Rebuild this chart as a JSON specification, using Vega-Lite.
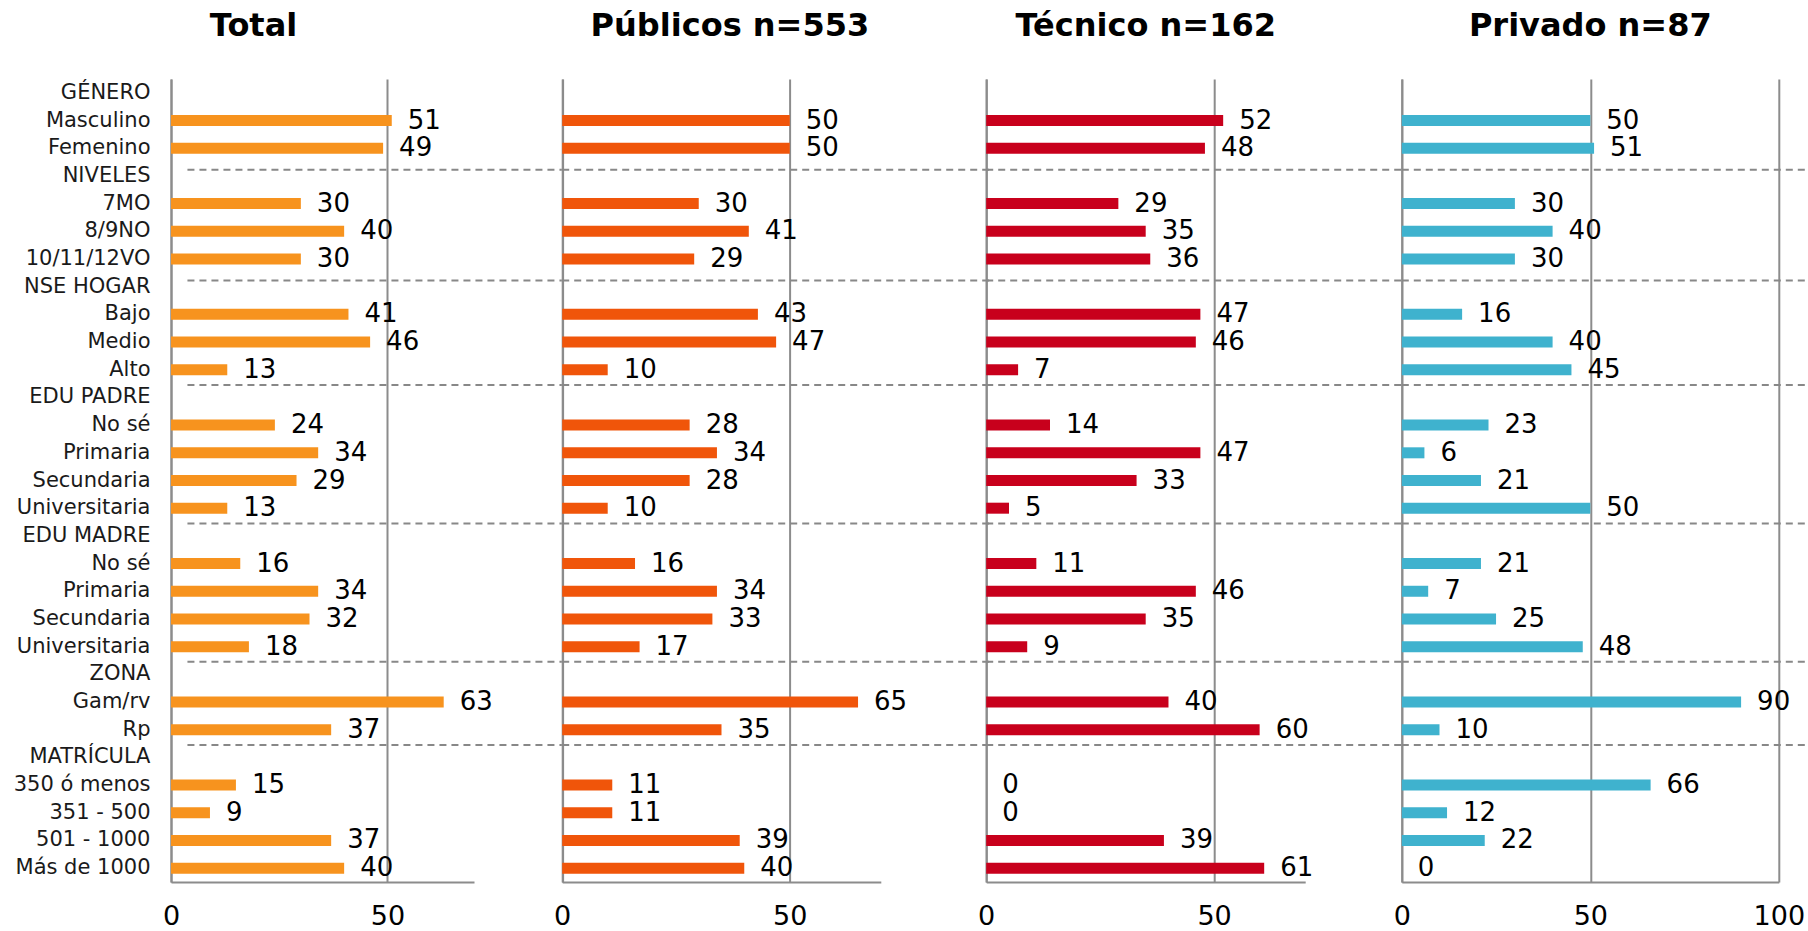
{
  "$schema": "https://vega.github.io/schema/vega-lite/v6.json",
  "background": "white",
  "padding": {"left": 13, "top": 10, "right": 0, "bottom": 0},
  "spacing": 96.6,
  "bounds": "flush",
  "config": {
    "view": {"stroke": null},
    "font": "DejaVu Sans",
    "title": {"font": "DejaVu Sans", "fontSize": 32, "fontWeight": "bold", "color": "#000000", "anchor": "middle", "frame": "group", "baseline": "alphabetic", "offset": 36},
    "axis": {"title": null, "ticks": false, "domainColor": "#8c8c8c", "domainWidth": 2, "gridColor": "#8c8c8c", "gridWidth": 2, "labelFont": "DejaVu Sans", "labelColor": "#000000"}
  },
  "resolve": {"scale": {"x": "independent", "y": "independent"}, "axis": {"x": "independent", "y": "independent"}},
  "datasets": {
    "rows": [
      {"panel": "Total", "key": "GÉNERO|Masculino", "value": 51},
      {"panel": "Total", "key": "GÉNERO|Femenino", "value": 49},
      {"panel": "Total", "key": "NIVELES|7MO", "value": 30},
      {"panel": "Total", "key": "NIVELES|8/9NO", "value": 40},
      {"panel": "Total", "key": "NIVELES|10/11/12VO", "value": 30},
      {"panel": "Total", "key": "NSE HOGAR|Bajo", "value": 41},
      {"panel": "Total", "key": "NSE HOGAR|Medio", "value": 46},
      {"panel": "Total", "key": "NSE HOGAR|Alto", "value": 13},
      {"panel": "Total", "key": "EDU PADRE|No sé", "value": 24},
      {"panel": "Total", "key": "EDU PADRE|Primaria", "value": 34},
      {"panel": "Total", "key": "EDU PADRE|Secundaria", "value": 29},
      {"panel": "Total", "key": "EDU PADRE|Universitaria", "value": 13},
      {"panel": "Total", "key": "EDU MADRE|No sé", "value": 16},
      {"panel": "Total", "key": "EDU MADRE|Primaria", "value": 34},
      {"panel": "Total", "key": "EDU MADRE|Secundaria", "value": 32},
      {"panel": "Total", "key": "EDU MADRE|Universitaria", "value": 18},
      {"panel": "Total", "key": "ZONA|Gam/rv", "value": 63},
      {"panel": "Total", "key": "ZONA|Rp", "value": 37},
      {"panel": "Total", "key": "MATRÍCULA|350 ó menos", "value": 15},
      {"panel": "Total", "key": "MATRÍCULA|351 - 500", "value": 9},
      {"panel": "Total", "key": "MATRÍCULA|501 - 1000", "value": 37},
      {"panel": "Total", "key": "MATRÍCULA|Más de 1000", "value": 40},
      {"panel": "Públicos", "key": "GÉNERO|Masculino", "value": 50},
      {"panel": "Públicos", "key": "GÉNERO|Femenino", "value": 50},
      {"panel": "Públicos", "key": "NIVELES|7MO", "value": 30},
      {"panel": "Públicos", "key": "NIVELES|8/9NO", "value": 41},
      {"panel": "Públicos", "key": "NIVELES|10/11/12VO", "value": 29},
      {"panel": "Públicos", "key": "NSE HOGAR|Bajo", "value": 43},
      {"panel": "Públicos", "key": "NSE HOGAR|Medio", "value": 47},
      {"panel": "Públicos", "key": "NSE HOGAR|Alto", "value": 10},
      {"panel": "Públicos", "key": "EDU PADRE|No sé", "value": 28},
      {"panel": "Públicos", "key": "EDU PADRE|Primaria", "value": 34},
      {"panel": "Públicos", "key": "EDU PADRE|Secundaria", "value": 28},
      {"panel": "Públicos", "key": "EDU PADRE|Universitaria", "value": 10},
      {"panel": "Públicos", "key": "EDU MADRE|No sé", "value": 16},
      {"panel": "Públicos", "key": "EDU MADRE|Primaria", "value": 34},
      {"panel": "Públicos", "key": "EDU MADRE|Secundaria", "value": 33},
      {"panel": "Públicos", "key": "EDU MADRE|Universitaria", "value": 17},
      {"panel": "Públicos", "key": "ZONA|Gam/rv", "value": 65},
      {"panel": "Públicos", "key": "ZONA|Rp", "value": 35},
      {"panel": "Públicos", "key": "MATRÍCULA|350 ó menos", "value": 11},
      {"panel": "Públicos", "key": "MATRÍCULA|351 - 500", "value": 11},
      {"panel": "Públicos", "key": "MATRÍCULA|501 - 1000", "value": 39},
      {"panel": "Públicos", "key": "MATRÍCULA|Más de 1000", "value": 40},
      {"panel": "Técnico", "key": "GÉNERO|Masculino", "value": 52},
      {"panel": "Técnico", "key": "GÉNERO|Femenino", "value": 48},
      {"panel": "Técnico", "key": "NIVELES|7MO", "value": 29},
      {"panel": "Técnico", "key": "NIVELES|8/9NO", "value": 35},
      {"panel": "Técnico", "key": "NIVELES|10/11/12VO", "value": 36},
      {"panel": "Técnico", "key": "NSE HOGAR|Bajo", "value": 47},
      {"panel": "Técnico", "key": "NSE HOGAR|Medio", "value": 46},
      {"panel": "Técnico", "key": "NSE HOGAR|Alto", "value": 7},
      {"panel": "Técnico", "key": "EDU PADRE|No sé", "value": 14},
      {"panel": "Técnico", "key": "EDU PADRE|Primaria", "value": 47},
      {"panel": "Técnico", "key": "EDU PADRE|Secundaria", "value": 33},
      {"panel": "Técnico", "key": "EDU PADRE|Universitaria", "value": 5},
      {"panel": "Técnico", "key": "EDU MADRE|No sé", "value": 11},
      {"panel": "Técnico", "key": "EDU MADRE|Primaria", "value": 46},
      {"panel": "Técnico", "key": "EDU MADRE|Secundaria", "value": 35},
      {"panel": "Técnico", "key": "EDU MADRE|Universitaria", "value": 9},
      {"panel": "Técnico", "key": "ZONA|Gam/rv", "value": 40},
      {"panel": "Técnico", "key": "ZONA|Rp", "value": 60},
      {"panel": "Técnico", "key": "MATRÍCULA|350 ó menos", "value": 0},
      {"panel": "Técnico", "key": "MATRÍCULA|351 - 500", "value": 0},
      {"panel": "Técnico", "key": "MATRÍCULA|501 - 1000", "value": 39},
      {"panel": "Técnico", "key": "MATRÍCULA|Más de 1000", "value": 61},
      {"panel": "Privado", "key": "GÉNERO|Masculino", "value": 50},
      {"panel": "Privado", "key": "GÉNERO|Femenino", "value": 51},
      {"panel": "Privado", "key": "NIVELES|7MO", "value": 30},
      {"panel": "Privado", "key": "NIVELES|8/9NO", "value": 40},
      {"panel": "Privado", "key": "NIVELES|10/11/12VO", "value": 30},
      {"panel": "Privado", "key": "NSE HOGAR|Bajo", "value": 16},
      {"panel": "Privado", "key": "NSE HOGAR|Medio", "value": 40},
      {"panel": "Privado", "key": "NSE HOGAR|Alto", "value": 45},
      {"panel": "Privado", "key": "EDU PADRE|No sé", "value": 23},
      {"panel": "Privado", "key": "EDU PADRE|Primaria", "value": 6},
      {"panel": "Privado", "key": "EDU PADRE|Secundaria", "value": 21},
      {"panel": "Privado", "key": "EDU PADRE|Universitaria", "value": 50},
      {"panel": "Privado", "key": "EDU MADRE|No sé", "value": 21},
      {"panel": "Privado", "key": "EDU MADRE|Primaria", "value": 7},
      {"panel": "Privado", "key": "EDU MADRE|Secundaria", "value": 25},
      {"panel": "Privado", "key": "EDU MADRE|Universitaria", "value": 48},
      {"panel": "Privado", "key": "ZONA|Gam/rv", "value": 90},
      {"panel": "Privado", "key": "ZONA|Rp", "value": 10},
      {"panel": "Privado", "key": "MATRÍCULA|350 ó menos", "value": 66},
      {"panel": "Privado", "key": "MATRÍCULA|351 - 500", "value": 12},
      {"panel": "Privado", "key": "MATRÍCULA|501 - 1000", "value": 22},
      {"panel": "Privado", "key": "MATRÍCULA|Más de 1000", "value": 0}
    ],
    "sections": [
      {"key": "NIVELES"}, {"key": "NSE HOGAR"}, {"key": "EDU PADRE"}, {"key": "EDU MADRE"}, {"key": "ZONA"}, {"key": "MATRÍCULA"}
    ]
  },
  "hconcat": [
    {
      "width": 303, "height": 803,
      "title": {"text": "Total", "dx": -69},
      "layer": [
        {
          "data": {"name": "rows"},
          "transform": [{"filter": {"field": "panel", "equal": "Total"}}],
          "layer": [
            {"mark": {"type": "bar", "size": 11, "color": "#F7931E"},
             "encoding": {
               "y": {"field": "key", "type": "nominal", "scale": {"domain": ["GÉNERO","GÉNERO|Masculino","GÉNERO|Femenino","NIVELES","NIVELES|7MO","NIVELES|8/9NO","NIVELES|10/11/12VO","NSE HOGAR","NSE HOGAR|Bajo","NSE HOGAR|Medio","NSE HOGAR|Alto","EDU PADRE","EDU PADRE|No sé","EDU PADRE|Primaria","EDU PADRE|Secundaria","EDU PADRE|Universitaria","EDU MADRE","EDU MADRE|No sé","EDU MADRE|Primaria","EDU MADRE|Secundaria","EDU MADRE|Universitaria","ZONA","ZONA|Gam/rv","ZONA|Rp","MATRÍCULA","MATRÍCULA|350 ó menos","MATRÍCULA|351 - 500","MATRÍCULA|501 - 1000","MATRÍCULA|Más de 1000"], "paddingInner": 0, "paddingOuter": 0},
                     "axis": {"labelExpr": "slice(datum.value, indexof(datum.value, '|') + 1)", "labelFontSize": 21, "labelColor": "#1a1a1a", "labelPadding": 21, "labelLimit": 400}},
               "x": {"field": "value", "type": "quantitative", "scale": {"domain": [0, 70], "nice": false},
                     "axis": {"values": [0, 50], "grid": true, "labelFontSize": 27, "labelPadding": 21, "labelFlush": false}}
             }},
            {"mark": {"type": "text", "align": "left", "baseline": "middle", "dx": 16, "fontSize": 26, "font": "DejaVu Sans", "color": "#000000"},
             "encoding": {"y": {"field": "key", "type": "nominal"}, "x": {"field": "value", "type": "quantitative"}, "text": {"field": "value", "type": "quantitative"}}}
          ]
        },
        {"data": {"name": "sections"}, "transform": [{"filter": {"field": "key", "oneOf": ["NIVELES", "NSE HOGAR"]}}],
         "mark": {"type": "rule", "strokeDash": [7, 5], "strokeWidth": 2, "color": "#888888"},
         "encoding": {"y": {"field": "key", "type": "nominal", "bandPosition": 0.28}, "x": {"datum": 3.8, "type": "quantitative"}, "x2": {"datum": 90.3}}},
        {"data": {"name": "sections"}, "transform": [{"filter": {"not": {"field": "key", "oneOf": ["NIVELES", "NSE HOGAR"]}}}],
         "mark": {"type": "rule", "strokeDash": [7, 5], "strokeWidth": 2, "color": "#888888"},
         "encoding": {"y": {"field": "key", "type": "nominal", "bandPosition": 0.05}, "x": {"datum": 3.8, "type": "quantitative"}, "x2": {"datum": 90.3}}}
      ]
    },
    {
      "width": 318.6, "height": 803,
      "title": {"text": "Públicos n=553"},
      "layer": [
        {
          "data": {"name": "rows"},
          "transform": [{"filter": {"field": "panel", "equal": "Públicos"}}],
          "layer": [
            {"mark": {"type": "bar", "size": 11, "color": "#F0550A"},
             "encoding": {
               "y": {"field": "key", "type": "nominal", "scale": {"domain": ["GÉNERO","GÉNERO|Masculino","GÉNERO|Femenino","NIVELES","NIVELES|7MO","NIVELES|8/9NO","NIVELES|10/11/12VO","NSE HOGAR","NSE HOGAR|Bajo","NSE HOGAR|Medio","NSE HOGAR|Alto","EDU PADRE","EDU PADRE|No sé","EDU PADRE|Primaria","EDU PADRE|Secundaria","EDU PADRE|Universitaria","EDU MADRE","EDU MADRE|No sé","EDU MADRE|Primaria","EDU MADRE|Secundaria","EDU MADRE|Universitaria","ZONA","ZONA|Gam/rv","ZONA|Rp","MATRÍCULA","MATRÍCULA|350 ó menos","MATRÍCULA|351 - 500","MATRÍCULA|501 - 1000","MATRÍCULA|Más de 1000"], "paddingInner": 0, "paddingOuter": 0},
                     "axis": {"labels": false, "offset": 8.4}},
               "x": {"field": "value", "type": "quantitative", "scale": {"domain": [0, 70], "nice": false, "range": [-8.4, 310.2]},
                     "axis": {"values": [0, 50], "grid": true, "labelFontSize": 27, "labelPadding": 21, "labelFlush": false}}
             }},
            {"mark": {"type": "text", "align": "left", "baseline": "middle", "dx": 16, "fontSize": 26, "font": "DejaVu Sans", "color": "#000000"},
             "encoding": {"y": {"field": "key", "type": "nominal"}, "x": {"field": "value", "type": "quantitative"}, "text": {"field": "value", "type": "quantitative"}}}
          ]
        },
        {"data": {"name": "sections"}, "transform": [{"filter": {"field": "key", "oneOf": ["NIVELES", "NSE HOGAR"]}}],
         "mark": {"type": "rule", "strokeDash": [7, 5], "strokeWidth": 2, "color": "#888888"},
         "encoding": {"y": {"field": "key", "type": "nominal", "bandPosition": 0.28}, "x": {"datum": 0, "type": "quantitative"}, "x2": {"datum": 93.8}}},
        {"data": {"name": "sections"}, "transform": [{"filter": {"not": {"field": "key", "oneOf": ["NIVELES", "NSE HOGAR"]}}}],
         "mark": {"type": "rule", "strokeDash": [7, 5], "strokeWidth": 2, "color": "#888888"},
         "encoding": {"y": {"field": "key", "type": "nominal", "bandPosition": 0.05}, "x": {"datum": 0, "type": "quantitative"}, "x2": {"datum": 93.8}}}
      ]
    },
    {
      "width": 319, "height": 803,
      "title": {"text": "Técnico n=162"},
      "layer": [
        {
          "data": {"name": "rows"},
          "transform": [{"filter": {"field": "panel", "equal": "Técnico"}}],
          "layer": [
            {"mark": {"type": "bar", "size": 11, "color": "#C8001C"},
             "encoding": {
               "y": {"field": "key", "type": "nominal", "scale": {"domain": ["GÉNERO","GÉNERO|Masculino","GÉNERO|Femenino","NIVELES","NIVELES|7MO","NIVELES|8/9NO","NIVELES|10/11/12VO","NSE HOGAR","NSE HOGAR|Bajo","NSE HOGAR|Medio","NSE HOGAR|Alto","EDU PADRE","EDU PADRE|No sé","EDU PADRE|Primaria","EDU PADRE|Secundaria","EDU PADRE|Universitaria","EDU MADRE","EDU MADRE|No sé","EDU MADRE|Primaria","EDU MADRE|Secundaria","EDU MADRE|Universitaria","ZONA","ZONA|Gam/rv","ZONA|Rp","MATRÍCULA","MATRÍCULA|350 ó menos","MATRÍCULA|351 - 500","MATRÍCULA|501 - 1000","MATRÍCULA|Más de 1000"], "paddingInner": 0, "paddingOuter": 0},
                     "axis": {"labels": false}},
               "x": {"field": "value", "type": "quantitative", "scale": {"domain": [0, 70], "nice": false},
                     "axis": {"values": [0, 50], "grid": true, "labelFontSize": 27, "labelPadding": 21, "labelFlush": false}}
             }},
            {"mark": {"type": "text", "align": "left", "baseline": "middle", "dx": 16, "fontSize": 26, "font": "DejaVu Sans", "color": "#000000"},
             "encoding": {"y": {"field": "key", "type": "nominal"}, "x": {"field": "value", "type": "quantitative"}, "text": {"field": "value", "type": "quantitative"}}}
          ]
        },
        {"data": {"name": "sections"}, "transform": [{"filter": {"field": "key", "oneOf": ["NIVELES", "NSE HOGAR"]}}],
         "mark": {"type": "rule", "strokeDash": [7, 5], "strokeWidth": 2, "color": "#888888"},
         "encoding": {"y": {"field": "key", "type": "nominal", "bandPosition": 0.28}, "x": {"datum": 0, "type": "quantitative"}, "x2": {"datum": 91.2}}},
        {"data": {"name": "sections"}, "transform": [{"filter": {"not": {"field": "key", "oneOf": ["NIVELES", "NSE HOGAR"]}}}],
         "mark": {"type": "rule", "strokeDash": [7, 5], "strokeWidth": 2, "color": "#888888"},
         "encoding": {"y": {"field": "key", "type": "nominal", "bandPosition": 0.05}, "x": {"datum": 0, "type": "quantitative"}, "x2": {"datum": 91.2}}}
      ]
    },
    {
      "width": 377, "height": 803,
      "title": {"text": "Privado n=87"},
      "layer": [
        {
          "data": {"name": "rows"},
          "transform": [{"filter": {"field": "panel", "equal": "Privado"}}],
          "layer": [
            {"mark": {"type": "bar", "size": 11, "color": "#3FB2CE"},
             "encoding": {
               "y": {"field": "key", "type": "nominal", "scale": {"domain": ["GÉNERO","GÉNERO|Masculino","GÉNERO|Femenino","NIVELES","NIVELES|7MO","NIVELES|8/9NO","NIVELES|10/11/12VO","NSE HOGAR","NSE HOGAR|Bajo","NSE HOGAR|Medio","NSE HOGAR|Alto","EDU PADRE","EDU PADRE|No sé","EDU PADRE|Primaria","EDU PADRE|Secundaria","EDU PADRE|Universitaria","EDU MADRE","EDU MADRE|No sé","EDU MADRE|Primaria","EDU MADRE|Secundaria","EDU MADRE|Universitaria","ZONA","ZONA|Gam/rv","ZONA|Rp","MATRÍCULA","MATRÍCULA|350 ó menos","MATRÍCULA|351 - 500","MATRÍCULA|501 - 1000","MATRÍCULA|Más de 1000"], "paddingInner": 0, "paddingOuter": 0},
                     "axis": {"labels": false}},
               "x": {"field": "value", "type": "quantitative", "scale": {"domain": [0, 100], "nice": false},
                     "axis": {"values": [0, 50, 100], "grid": true, "labelFontSize": 27, "labelPadding": 21, "labelFlush": false}}
             }},
            {"mark": {"type": "text", "align": "left", "baseline": "middle", "dx": 16, "fontSize": 26, "font": "DejaVu Sans", "color": "#000000"},
             "encoding": {"y": {"field": "key", "type": "nominal"}, "x": {"field": "value", "type": "quantitative"}, "text": {"field": "value", "type": "quantitative"}}}
          ]
        },
        {"data": {"name": "sections"}, "transform": [{"filter": {"field": "key", "oneOf": ["NIVELES", "NSE HOGAR"]}}],
         "mark": {"type": "rule", "strokeDash": [7, 5], "strokeWidth": 2, "color": "#888888"},
         "encoding": {"y": {"field": "key", "type": "nominal", "bandPosition": 0.28}, "x": {"datum": 0, "type": "quantitative"}, "x2": {"datum": 108}}},
        {"data": {"name": "sections"}, "transform": [{"filter": {"not": {"field": "key", "oneOf": ["NIVELES", "NSE HOGAR"]}}}],
         "mark": {"type": "rule", "strokeDash": [7, 5], "strokeWidth": 2, "color": "#888888"},
         "encoding": {"y": {"field": "key", "type": "nominal", "bandPosition": 0.05}, "x": {"datum": 0, "type": "quantitative"}, "x2": {"datum": 108}}}
      ]
    }
  ]
}
